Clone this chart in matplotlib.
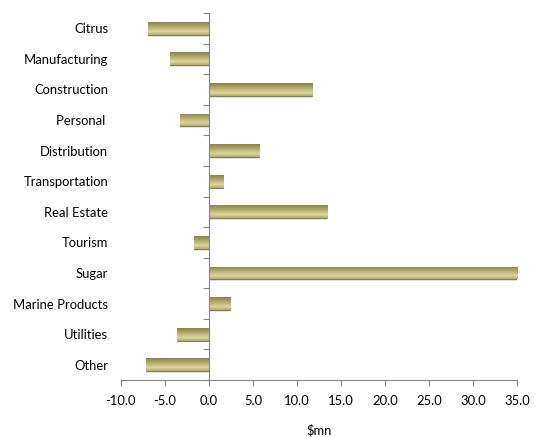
import numpy as np
import matplotlib
matplotlib.use("Agg")
import matplotlib.pyplot as plt
from matplotlib.colors import LinearSegmentedColormap

categories = [
    "Citrus", "Manufacturing", "Construction", "Personal ", "Distribution",
    "Transportation", "Real Estate", "Tourism", "Sugar", "Marine Products",
    "Utilities", "Other",
]
values = [-6.9, -4.4, 11.7, -3.3, 5.7, 1.6, 13.4, -1.7, 35.0, 2.4, -3.6, -7.1]
xticks = [-10, -5, 0, 5, 10, 15, 20, 25, 30, 35]

plt.rcParams["font.family"] = ["Lato", "DejaVu Sans"]
axis_grey = "#868686"
fs = 9.4

fig = plt.figure(figsize=(5.42, 4.37), dpi=100)
ax = fig.add_axes([120.7 / 542, 57 / 437, 396.6 / 542, 367 / 437])

# vertical gold gradient for the bevelled bars
gold = LinearSegmentedColormap.from_list(
    "gold", ["#8a8350", "#a59d62", "#c2ba7c", "#ddd7a0", "#b0a86c"])
grad = np.linspace(0, 1, 64).reshape(-1, 1)

y = np.arange(len(categories))
height = 0.42
bars = ax.barh(y, values, height=height, color="#b3ab6e",
               edgecolor="#7a7445", linewidth=0.6, zorder=2)
for bar in bars:
    x0, yb = bar.get_x(), bar.get_y()
    w, h = bar.get_width(), bar.get_height()
    im = ax.imshow(grad, cmap=gold, aspect="auto", zorder=3,
                   extent=[x0, x0 + w, yb + h, yb], origin="upper")
    im.set_clip_path(bar)
    # soft shadow beneath
    ax.barh(bar.get_y() + h / 2 + 0.06, w, left=x0, height=h,
            color="#000000", alpha=0.12, zorder=1, linewidth=0)

ax.set_xlim(-10, 35)
ax.set_ylim(len(categories) - 0.5, -0.5)
ax.set_xticks(xticks)
ax.set_xticklabels([f"{t:.1f}" for t in xticks], fontsize=fs)
ax.set_yticks(y)
ax.set_yticklabels(categories, fontsize=fs)
ax.tick_params(axis="y", length=0, pad=9)
ax.tick_params(axis="x", length=4, color=axis_grey, pad=7)
ax.set_xlabel("$mn", fontsize=fs, labelpad=12)

# category axis sits at zero, with tick marks between categories
ax.axvline(0, color=axis_grey, linewidth=0.8, zorder=4)
ax.plot(np.zeros(len(categories) + 1), np.arange(-0.5, len(categories), 1),
        marker=0, linestyle="none", markersize=4, color=axis_grey,
        markeredgewidth=0.8, clip_on=False, zorder=4)

for side in ["top", "right", "left"]:
    ax.spines[side].set_visible(False)
ax.spines["bottom"].set_color(axis_grey)

fig.savefig("out.png", dpi=100)
